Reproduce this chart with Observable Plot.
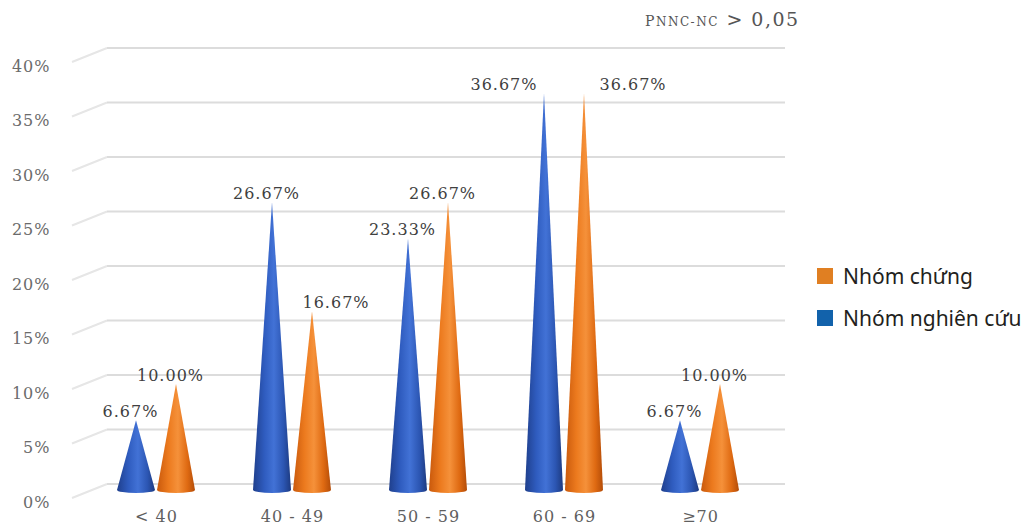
<!DOCTYPE html>
<html><head><meta charset="utf-8">
<script src="https://cdn.jsdelivr.net/npm/d3@7"></script>
<script src="https://cdn.jsdelivr.net/npm/@observablehq/plot@0.6"></script>
<style>
body{margin:0;background:#fff;width:1023px;height:527px;overflow:hidden;position:relative;}
#chart{position:absolute;left:0;top:0;}
.legend{position:absolute;left:817px;top:255px;font-family:"Noto Sans",sans-serif;font-size:21px;color:#231f20;}
.legend .row{display:flex;align-items:center;height:42px;white-space:nowrap;}
.legend .sw{width:16px;height:16px;margin-right:10px;}
.pval{position:absolute;left:645px;top:8px;font-family:"DejaVu Serif",serif;color:#555;font-size:19px;letter-spacing:1.5px;white-space:nowrap;}
.pval .s{font-size:12px;}
</style></head><body>
<div id="chart"></div>
<div class="pval"><span style="font-size:14px">P</span><span class="s">NNC-NC</span> &gt; 0,05</div>
<div class="legend" id="legend"></div>
<script>
const categories = ["< 40", "40 - 49", "50 - 59", "60 - 69", "≥70"];
const seriesNames = ["Nhóm nghiên cứu", "Nhóm chứng"];
const studyValues = [6.67, 26.67, 23.33, 36.67, 6.67];   // Nhóm nghiên cứu (blue)
const controlValues = [10.00, 16.67, 26.67, 36.67, 10.00]; // Nhóm chứng (orange)
const yTicks = [0, 5, 10, 15, 20, 25, 30, 35, 40];
const legendOrder = ["Nhóm chứng", "Nhóm nghiên cứu"];

const colors = {"Nhóm nghiên cứu": "#1262ab", "Nhóm chứng": "#e07f22"};
const offsets = {"Nhóm nghiên cứu": -20, "Nhóm chứng": 20};

const rows = [];
categories.forEach((c, i) => {
  rows.push({cat: c, series: seriesNames[0], value: studyValues[i], idx: i});
  rows.push({cat: c, series: seriesNames[1], value: controlValues[i], idx: i});
});

function placement(r) {
  const b = studyValues[r.idx], o = controlValues[r.idx];
  const off = offsets[r.series];
  if (b === o) return r.series === seriesNames[0] ? {anchor: "end", dx: off - 7} : {anchor: "start", dx: off + 15};
  if (r.series === seriesNames[1] && b > o) return {anchor: "start", dx: off - 10};
  return {anchor: "middle", dx: off - 6};
}

const serif = "DejaVu Serif, serif";

const gridMark = Plot.ruleY(yTicks, {
  y: d => d,
  render: (index, scales, values, dims) => {
    const g = d3.create("svg:g");
    const x0 = dims.marginLeft - 15, x1 = dims.marginLeft + 20, x2 = dims.width - dims.marginRight + 17;
    for (const i of index) {
      const y = scales.y(yTicks[i]);
      g.append("path")
        .attr("d", `M${x0},${y + 5}L${x1},${y - 9}`)
        .attr("stroke", "#e6e6e6").attr("stroke-width", 2).attr("fill", "none");
      g.append("path")
        .attr("d", `M${x1},${y - 9}H${x2}`)
        .attr("stroke", "#dcdcdc").attr("stroke-width", 2).attr("fill", "none");
    }
    return g.node();
  }
});

const coneMark = Plot.dot(rows, {
  x: "cat", y: "value",
  render: (index, scales, values, dims) => {
    const g = d3.create("svg:g");
    const defs = g.append("defs");
    const grads = {
      "Nhóm nghiên cứu": [["0", "#1f3f8c"], ["0.3", "#2f5cbf"], ["0.55", "#4272d6"], ["0.8", "#2c56b3"], ["1", "#1d3a80"]],
      "Nhóm chứng": [["0", "#c9590c"], ["0.3", "#ec7a1e"], ["0.55", "#f5913a"], ["0.8", "#df6a12"], ["1", "#b34c08"]]
    };
    const ids = {};
    Object.entries(grads).forEach(([k, stops], j) => {
      const id = "coneGrad" + j;
      ids[k] = id;
      const lg = defs.append("linearGradient").attr("id", id).attr("x1", 0).attr("x2", 1).attr("y1", 0).attr("y2", 0);
      stops.forEach(([o, c]) => lg.append("stop").attr("offset", o).attr("stop-color", c));
    });
    const yb = scales.y(0) - 3;
    const hw = 19, ry = 3;
    const bw = scales.x.bandwidth ? scales.x.bandwidth() : 0;
    for (const i of index) {
      const r = rows[i];
      const cx = scales.x(r.cat) + bw / 2 + offsets[r.series];
      const ty = scales.y(r.value);
      g.append("path")
        .attr("d", `M${cx - hw},${yb}L${cx},${ty}L${cx + hw},${yb}A${hw},${ry} 0 0 1 ${cx - hw},${yb}Z`)
        .attr("fill", `url(#${ids[r.series]})`);
    }
    return g.node();
  }
});

const labelMarks = rows.map(r => {
  const p = placement(r);
  return Plot.text([r], {
    x: "cat", y: "value", text: d => d.value.toFixed(2) + "%",
    textAnchor: p.anchor, dx: p.dx, dy: -4, lineAnchor: "bottom",
    fill: "#404040", fontSize: 16, fontFamily: serif
  });
});

const plot = Plot.plot({
  width: 1023, height: 527,
  marginLeft: 87, marginRight: 255, marginTop: 57, marginBottom: 34,
  x: {type: "band", domain: categories, padding: 0, axis: null},
  y: {domain: [0, 40], axis: null},
  style: {background: "transparent", fontFamily: serif, letterSpacing: "1px"},
  marks: [
    gridMark,
    Plot.text(yTicks, {y: d => d, frameAnchor: "left", text: d => d + "%", textAnchor: "end", dx: -37, dy: 9, fill: "#6b6b6b", fontSize: 16, fontFamily: serif}),
    Plot.text(categories, {x: d => d, frameAnchor: "bottom", text: d => d, dy: 28, fill: "#5f5f5f", fontSize: 16, fontFamily: serif}),
    coneMark,
    ...labelMarks
  ]
});
document.getElementById("chart").appendChild(plot);

const legend = document.getElementById("legend");
legendOrder.forEach(s => {
  const row = document.createElement("div");
  row.className = "row";
  row.innerHTML = `<div class="sw" style="background:${colors[s]}"></div><span>${s}</span>`;
  legend.appendChild(row);
});
</script>
</body></html>
